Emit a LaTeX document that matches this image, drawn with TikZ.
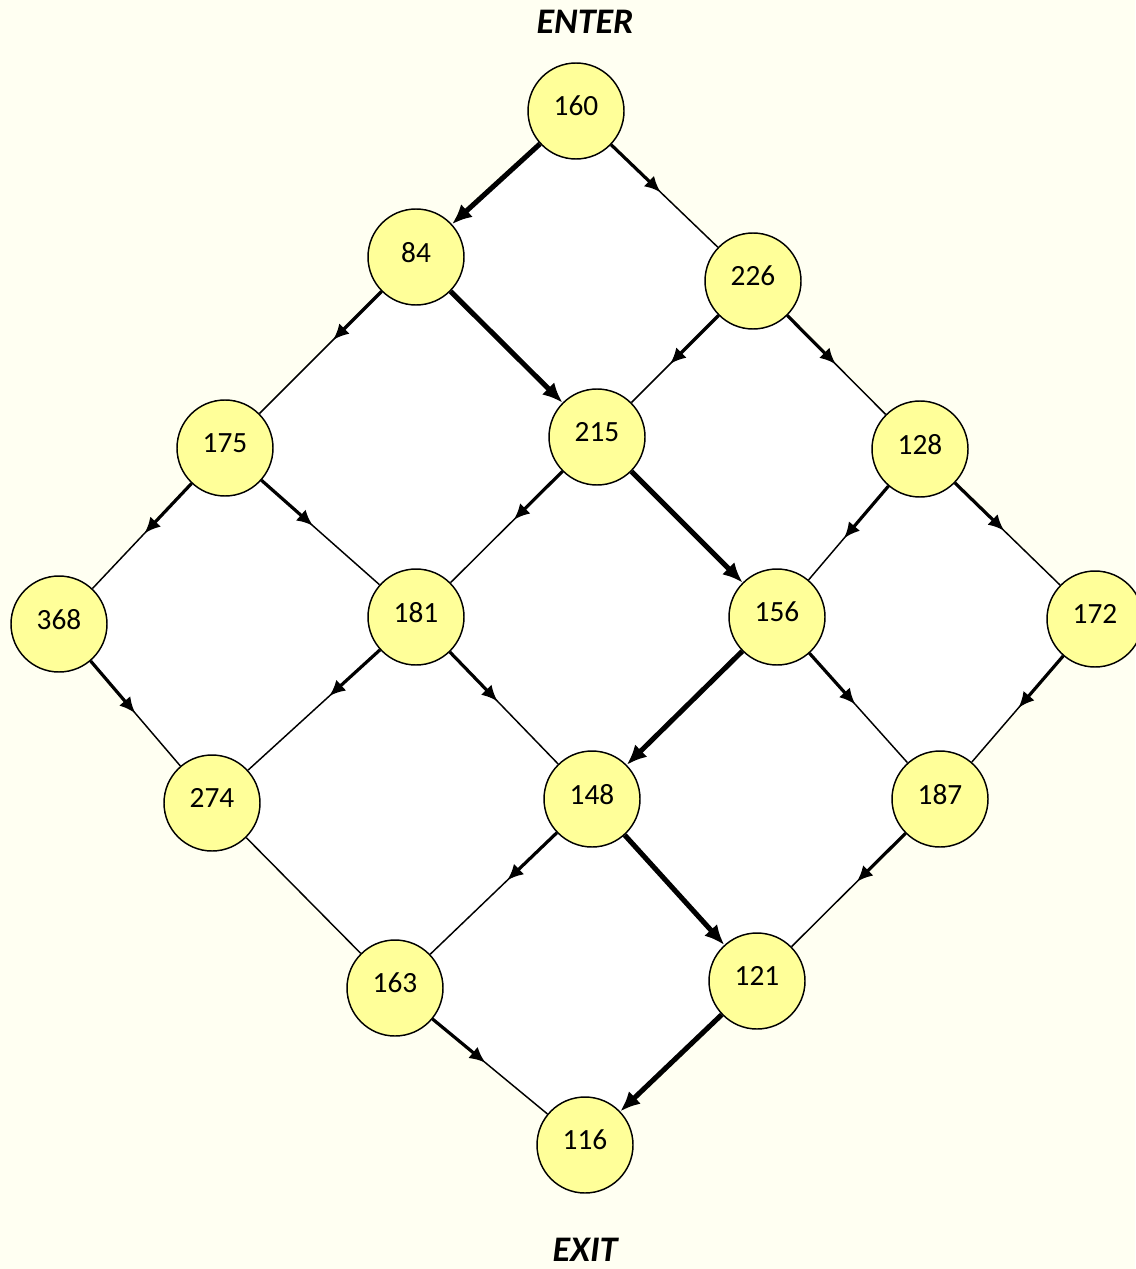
\documentclass[tikz,border=0pt]{standalone}
\usepackage{fontspec}
\setmainfont{Carlito}
\usetikzlibrary{arrows.meta,calc,backgrounds}
\definecolor{cream}{HTML}{FFFFF2}
\definecolor{nodey}{HTML}{FFFF99}
\tikzset{
  num/.style={circle,draw=black,line width=1.1pt,fill=nodey,minimum size=72pt,inner sep=0pt,
    font=\fontsize{22}{26}\selectfont,text depth=7.5pt},
  title/.style={inner sep=0pt,font=\fontsize{27}{32}\selectfont\bfseries\itshape},
  edgeline/.style={line width=1.1pt},
  seg/.style={line width=2.4pt,-{Latex[length=12pt,width=11pt]}},
  pathedge/.style={line width=3.8pt,-{Latex[length=15pt,width=13pt]}}
}
\newcommand{\arc}[2]{\draw[edgeline] (#1) -- (#2);\draw[seg] (#1) -- ($(#1)!88pt!(#2)$);}
\begin{document}
\begin{tikzpicture}[x=0.75pt,y=-0.75pt]
\useasboundingbox (0,0) rectangle (1135,1269);
\node[num] (n160) at (576,111) {160};
\node[num] (n84) at (416,257) {84};
\node[num] (n226) at (753,281) {226};
\node[num] (n175) at (225,448) {175};
\node[num] (n215) at (597,437) {215};
\node[num] (n128) at (920,449) {128};
\node[num] (n368) at (59,624) {368};
\node[num] (n181) at (416,617) {181};
\node[num] (n156) at (777,617) {156};
\node[num] (n172) at (1095,619) {172};
\node[num] (n274) at (212,803) {274};
\node[num] (n148) at (592,799) {148};
\node[num] (n187) at (940,799) {187};
\node[num] (n163) at (395,988) {163};
\node[num] (n121) at (757,981) {121};
\node[num] (n116) at (585,1145) {116};
\node[title] (enter) at (585,22) {ENTER};
\node[title] (exit) at (585,1250) {EXIT};
\begin{pgfonlayer}{background}
\fill[cream] (0,0) rectangle (1135,1269);
\fill[white] (n160.center) -- (n226.center) -- (n128.center) -- (n172.center) -- (n187.center)
  -- (n121.center) -- (n116.center) -- (n163.center) -- (n274.center) -- (n368.center)
  -- (n175.center) -- (n84.center) -- cycle;
\end{pgfonlayer}
% bold path
\draw[pathedge] (n160) -- (n84);
\draw[pathedge] (n84) -- (n215);
\draw[pathedge] (n215) -- (n156);
\draw[pathedge] (n156) -- (n148);
\draw[pathedge] (n148) -- (n121);
\draw[pathedge] (n121) -- (n116);
% thin edges
\arc{n160}{n226}
\arc{n84}{n175}
\arc{n226}{n215}
\arc{n226}{n128}
\arc{n175}{n368}
\arc{n175}{n181}
\arc{n215}{n181}
\arc{n128}{n156}
\arc{n128}{n172}
\arc{n368}{n274}
\arc{n181}{n274}
\arc{n181}{n148}
\arc{n156}{n187}
\arc{n172}{n187}
\draw[edgeline] (n274) -- (n163);
\arc{n148}{n163}
\arc{n187}{n121}
\arc{n163}{n116}
\end{tikzpicture}
\end{document}
